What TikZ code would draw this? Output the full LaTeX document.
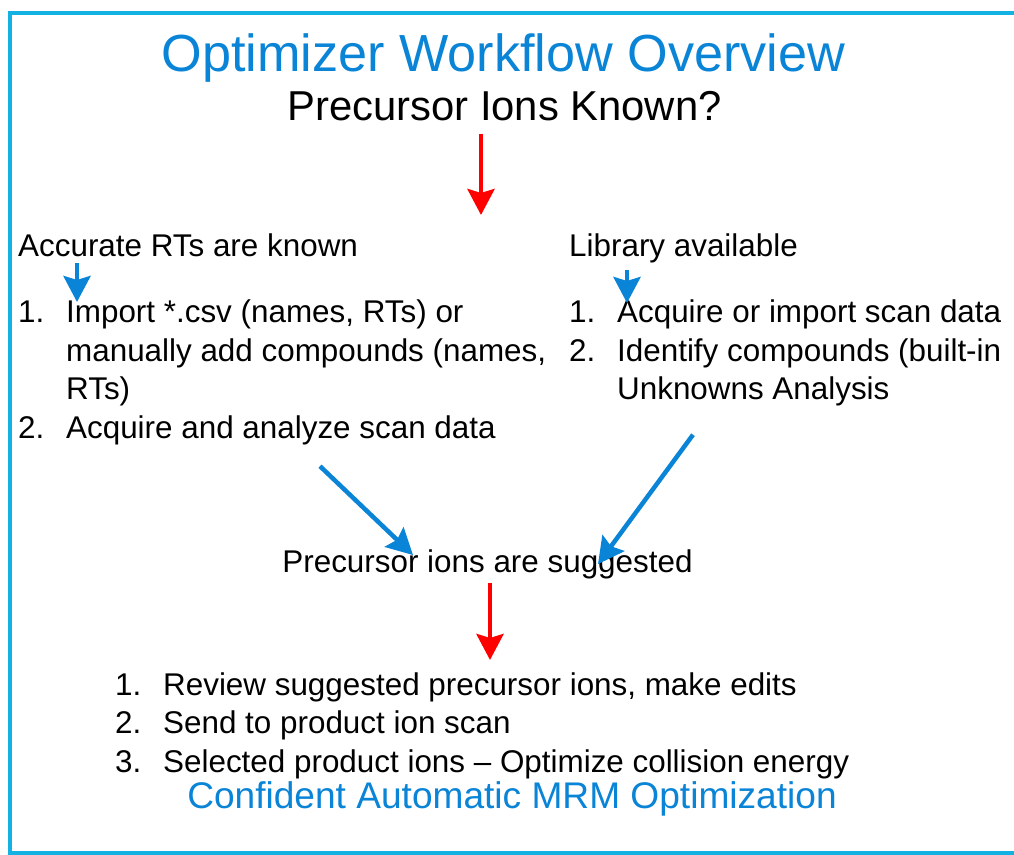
\documentclass[tikz,border=0pt]{standalone}
\usepackage{fontspec}
\setmainfont{Liberation Sans}
\usetikzlibrary{arrows.meta}

\definecolor{framecyan}{RGB}{20,178,226}
\definecolor{flowblue}{RGB}{10,132,214}
\definecolor{flowred}{RGB}{255,0,0}

\newcommand{\stepnum}[1]{\makebox[48pt][l]{#1}}
\newcommand{\stepgap}{\hspace*{48pt}}

\tikzset{
    txt/.style={inner sep=0pt, font=\fontsize{31.4}{38.5}\selectfont},
    steps/.style={txt, align=left, anchor=base west},
    heading/.style={inner sep=0pt, text=flowblue, anchor=base},
    link/.style={-{Stealth[length=26pt, width=27pt, inset=4pt]}, line width=4.5pt},
    redlink/.style={link, draw=flowred, fill=flowred},
    bluelink/.style={link, draw=flowblue, fill=flowblue}
}

\begin{document}
\begin{tikzpicture}[x=1pt, y=1pt]
    \useasboundingbox (0,0) rectangle (1014,854);
    \draw[framecyan, line width=4pt] (1020,841.2) -- (9.5,841.2) -- (9.5,1.5) -- (1020,1.5);

    \node[heading, font=\fontsize{52.2}{60}\selectfont] (title) at (503.5,782)
        {Optimizer Workflow Overview};
    \node[txt, anchor=base, font=\fontsize{41.8}{50}\selectfont] (known) at (504.5,733)
        {Precursor Ions Known?};
    \coordinate (split) at (481,639);
    \draw[redlink, shorten <=12pt] (known.south -| split) -- (split);

    % left branch
    \node[txt, anchor=base west] (rt-label) at (18,597) {Accurate RTs are known};
    \node[steps] (rt-steps) at (18,415.5)
        {\stepnum{1.}Import *.csv (names, RTs) or\\
         \stepgap manually add compounds (names,\\
         \stepgap RTs)\\
         \stepnum{2.}Acquire and analyze scan data};
    \coordinate (rt-drop) at (77,552);
    \draw[bluelink, shorten <=6pt] (rt-label.south -| rt-drop) -- (rt-drop);

    % right branch
    \node[txt, anchor=base west] (lib-label) at (569,597) {Library available};
    \node[steps] (lib-steps) at (569,454)
        {\stepnum{1.}Acquire or import scan data\\
         \stepnum{2.}Identify compounds (built-in\\
         \stepgap Unknowns Analysis};
    \coordinate (lib-drop) at (627,551);
    \draw[bluelink, shorten <=6pt] (lib-label.south -| lib-drop) -- (lib-drop);

    \node[txt, anchor=base] (suggested) at (487.5,281) {Precursor ions are suggested};
    \draw[bluelink] ([shift={(302,-21)}]rt-steps.south west)
        -- ([shift={(-74.5,-5)}]suggested.north);
    \draw[bluelink] ([shift={(124,-28)}]lib-steps.south west)
        -- ([shift={(110.5,-14)}]suggested.north);

    \node[steps] (review-steps) at (115,82)
        {\stepnum{1.}Review suggested precursor ions, make edits\\
         \stepnum{2.}Send to product ion scan\\
         \stepnum{3.}Selected product ions -- Optimize collision energy};
    \coordinate (review-in) at (490,194);
    \draw[redlink] ([yshift=-3pt]suggested.south -| review-in) -- (review-in);

    \node[heading, font=\fontsize{37.1}{40}\selectfont] (confident) at (512,46)
        {Confident Automatic MRM Optimization};
\end{tikzpicture}
\end{document}
